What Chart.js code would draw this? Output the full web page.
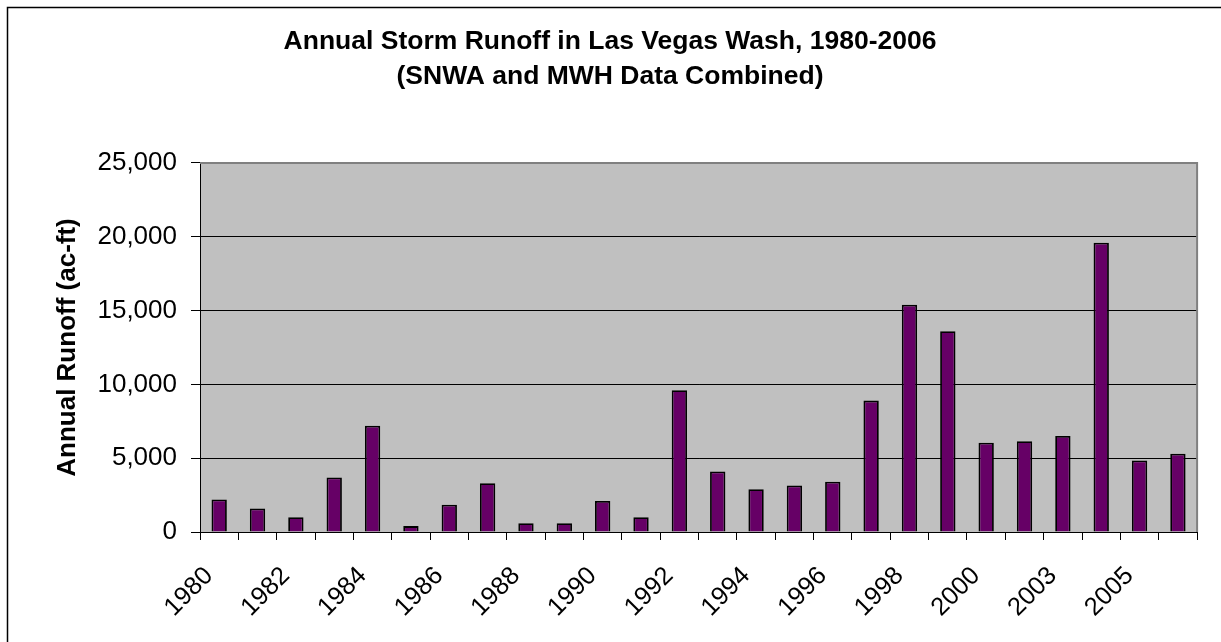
<!DOCTYPE html>
<html>
<head>
<meta charset="utf-8">
<style>
  html, body { margin: 0; padding: 0; background: #ffffff; }
  #wrap { width: 1221px; height: 642px; position: relative; }
</style>
<script src="https://cdn.jsdelivr.net/npm/chart.js@4/dist/chart.umd.min.js"></script>
</head>
<body>
<div id="wrap"><canvas id="runoffChart" width="1221" height="642"></canvas></div>
<script>
// Water years on the category axis
const years = ['1980', '1981', '1982', '1983', '1984', '1985', '1986', '1987', '1988', '1989',
               '1990', '1991', '1992', '1993', '1994', '1995', '1996', '1997', '1998', '1999',
               '2000', '2001', '2003', '2004', '2005', '2006'];

// Annual storm runoff, acre-feet
const runoffAcFt = [2200, 1600, 1000, 3700, 7200, 400, 1850, 3300, 600, 600,
                    2100, 1000, 9600, 4100, 2900, 3150, 3400, 8900, 15400, 13600,
                    6050, 6150, 6500, 19600, 4850, 5300];

// Value axis ticks
const yTicks = [0, 5000, 10000, 15000, 20000, 25000];

const titleLines = ['Annual Storm Runoff in Las Vegas Wash, 1980-2006', '(SNWA and MWH Data Combined)'];
const yAxisTitle = 'Annual Runoff (ac-ft)';

const FONT = '"Liberation Sans", Arial, Helvetica, sans-serif';

// Gray plot area fill, gray top/right edges and the outer chart frame
const plotDecor = {
  id: 'plotDecor',
  beforeDatasetsDraw(chart) {
    const { ctx, chartArea: a } = chart;
    ctx.save();
    ctx.fillStyle = '#c0c0c0';
    ctx.globalCompositeOperation = 'destination-over';
    ctx.fillRect(a.left, a.top, a.right - a.left, a.bottom - a.top);
    ctx.restore();
  },
  afterDraw(chart) {
    const { ctx, chartArea: a } = chart;
    ctx.save();
    ctx.strokeStyle = '#808080';
    ctx.lineWidth = 2;
    ctx.beginPath();
    ctx.moveTo(a.left, a.top);
    ctx.lineTo(a.right, a.top);
    ctx.lineTo(a.right, a.bottom);
    ctx.stroke();
    // outer frame
    ctx.strokeStyle = '#000000';
    ctx.lineWidth = 1.5;
    ctx.beginPath();
    ctx.moveTo(7.5, chart.height + 5);
    ctx.lineTo(7.5, 7.5);
    ctx.lineTo(chart.width + 5, 7.5);
    ctx.stroke();
    ctx.restore();
  }
};

new Chart(document.getElementById('runoffChart'), {
  type: 'bar',
  data: {
    labels: years,
    datasets: [{
      label: 'Annual Runoff',
      data: runoffAcFt,
      backgroundColor: '#660066',
      borderColor: '#000000',
      borderWidth: 1.8,
      barPercentage: 0.4,
      categoryPercentage: 1.0
    }]
  },
  options: {
    responsive: false,
    animation: false,
    layout: { padding: { left: 22, right: 23, top: 0, bottom: 0 } },
    plugins: {
      legend: { display: false },
      tooltip: { enabled: false },
      title: {
        display: true,
        text: titleLines,
        color: '#000000',
        font: { family: FONT, size: 26.5, weight: 'bold', lineHeight: 1.32 },
        padding: { top: 24, bottom: 69 }
      }
    },
    scales: {
      x: {
        offset: true,
        grid: { display: true, drawOnChartArea: false, drawTicks: true, tickLength: 8, offset: true, color: '#000000' },
        border: { display: true, color: '#000000', width: 1 },
        ticks: {
          autoSkip: false,
          maxRotation: 45,
          minRotation: 45,
          color: '#000000',
          padding: 21,
          labelOffset: -10,
          font: { family: FONT, size: 25.5 },
          callback: (v, i) => (i % 2 === 0 ? years[i] : '')
        },
        afterFit(scale) { scale.height = 110; }
      },
      y: {
        min: 0,
        max: 25000,
        afterBuildTicks(scale) { scale.ticks = yTicks.map(v => ({ value: v })); },
        grid: { color: '#000000', lineWidth: 1, tickLength: 9, drawTicks: true },
        border: { display: true, color: '#000000', width: 1 },
        ticks: {
          color: '#000000',
          padding: 14,
          font: { family: FONT, size: 26 },
          callback: v => v.toLocaleString('en-US')
        },
        title: {
          display: true,
          text: yAxisTitle,
          color: '#000000',
          font: { family: FONT, size: 26, weight: 'bold' },
          padding: { top: 30, bottom: 0 }
        },
        afterFit(scale) { scale.width = 178; }
      }
    }
  },
  plugins: [plotDecor]
});
</script>
</body>
</html>
